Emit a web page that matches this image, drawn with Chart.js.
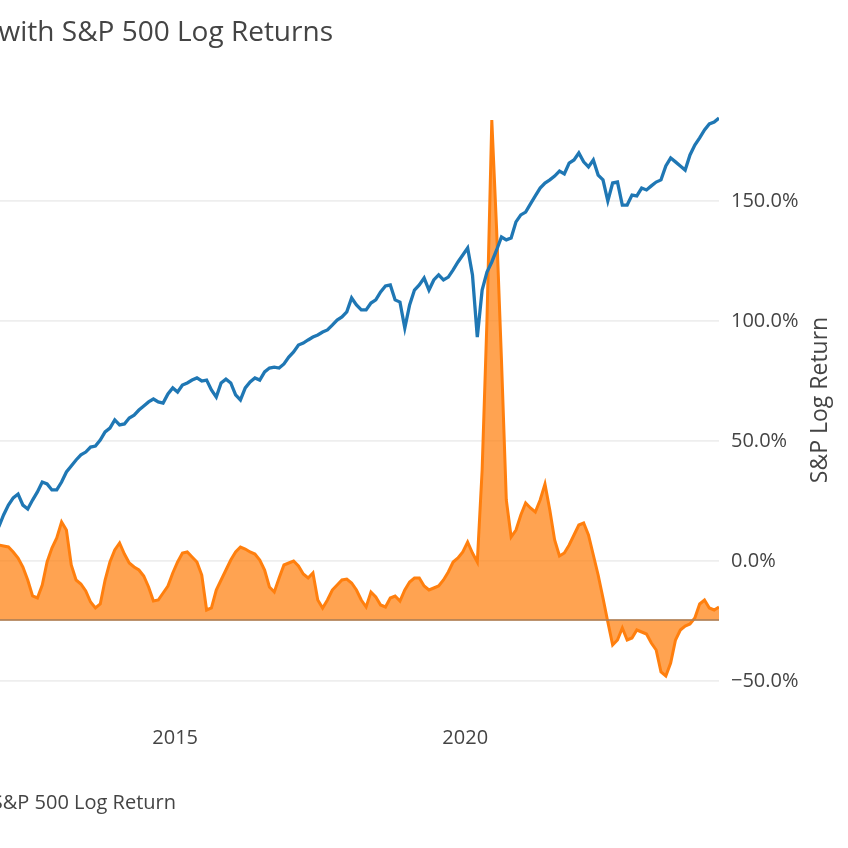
<!DOCTYPE html>
<html>
<head>
<meta charset="utf-8">
<script src="https://cdn.jsdelivr.net/npm/chart.js@4.4.1/dist/chart.umd.min.js"></script>
<style>
  html, body { margin: 0; padding: 0; background: #ffffff; }
  #c { display: block; }
</style>
</head>
<body>
<canvas id="c" width="848" height="848"></canvas>
<script>
// ---- data (monthly, Dec 2011 .. May 2024) ----
const firstMonth = "2011-12";
const titleText = "with S&P 500 Log Returns";
const spName = "S&P 500 Log Return";
const rightAxisTitle = "S&P Log Return";
const xTickYears = [2015, 2020];
const rightTicks = [-50, 0, 50, 100, 150];

// cumulative S&P 500 log return, %
const spLogReturn = [
  14.2,19.2,23.3,26.3,27.9,23.3,21.7,25.4,28.8,32.9,32.1,29.6,29.6,
  32.9,37.1,39.6,42.1,44.2,45.4,47.5,47.9,50.4,53.8,55.4,58.8,
  56.7,57.1,59.6,60.8,62.9,64.6,66.3,67.5,66.3,65.8,69.6,72.1,
  70.4,73.3,74.2,75.4,76.3,75.0,75.4,71.3,68.3,74.2,75.8,74.2,
  69.2,67.1,72.1,74.6,76.3,75.4,78.8,80.4,80.8,80.4,82.1,85.0,
  87.1,90.0,90.8,92.1,93.3,94.2,95.4,96.3,98.3,100.4,101.7,103.8,
  109.6,106.7,104.6,104.6,107.5,108.8,112.1,114.6,115.0,108.8,107.9,97.1,
  106.7,112.9,115.0,117.9,112.9,117.1,119.2,117.1,118.3,121.3,124.6,127.5,
  130.4,119.2,93.3,112.9,120.4,124.6,129.6,135.0,133.8,134.6,141.3,144.2,
  145.4,148.8,152.1,155.4,157.5,158.8,160.4,162.5,161.3,165.8,167.1,170.0,
  166.3,164.2,167.1,160.8,158.8,150.0,157.5,157.9,148.3,148.3,152.5,152.1,
  155.4,154.6,156.3,157.9,158.8,164.6,167.9,166.3,164.6,162.9,169.2,173.3,
  176.3,179.6,182.1,182.9,184.6
];

// orange area series (left axis, which lies outside the visible crop)
const growthSeries = [
  3.75,3.70,3.65,3.40,3.10,2.65,2.00,1.20,1.10,1.75,2.90,3.60,4.10,
  4.90,4.50,2.75,2.00,1.80,1.45,0.90,0.60,0.80,2.00,2.90,3.50,
  3.85,3.30,2.85,2.65,2.50,2.20,1.65,0.95,1.00,1.35,1.70,2.35,
  2.90,3.35,3.40,3.15,2.90,2.25,0.50,0.60,1.50,2.00,2.50,3.00,
  3.40,3.65,3.55,3.40,3.30,3.00,2.50,1.65,1.40,2.10,2.75,2.85,
  2.95,2.70,2.30,2.10,2.35,1.00,0.60,1.00,1.50,1.75,2.00,2.05,
  1.85,1.50,1.00,0.65,1.40,1.15,0.75,0.65,1.10,1.20,0.95,1.50,
  1.90,2.10,2.10,1.70,1.50,1.60,1.70,2.00,2.40,2.90,3.10,3.40,
  3.90,3.35,2.90,7.50,15.00,25.00,19.50,13.00,6.00,4.15,4.50,5.25,
  5.85,5.60,5.40,6.00,6.80,5.50,4.00,3.20,3.35,3.75,4.25,4.75,
  4.85,4.25,3.25,2.25,1.10,-0.10,-1.25,-1.00,-0.40,-1.00,-0.90,-0.50,
  -0.60,-0.70,-1.15,-1.50,-2.60,-2.80,-2.15,-1.00,-0.50,-0.30,-0.20,0.10,
  0.80,1.00,0.60,0.50,0.65
];

// month categories
const months = [];
{
  let [yy, mm] = firstMonth.split("-").map(Number);
  for (let k = 0; k < spLogReturn.length; k++) {
    months.push(yy + "-" + String(mm).padStart(2, "0"));
    mm++; if (mm > 12) { mm = 1; yy++; }
  }
}
const monthToYear = s => { const [y, m] = s.split("-").map(Number); return y + (m - 0.5) / 12; };
const xs = months.map(monthToYear);

const FONT = "'Open Sans', 'Noto Sans', sans-serif";
const TEXT = "#444444";

const overlay = {
  id: "overlay",
  afterDatasetsDraw(chart) {
    const { ctx, chartArea, scales } = chart;
    const y0 = scales.y.getPixelForValue(0);
    ctx.save();
    ctx.strokeStyle = "rgba(176,128,86,0.85)";
    ctx.lineWidth = 2;
    ctx.beginPath();
    ctx.moveTo(chartArea.left, y0);
    ctx.lineTo(chartArea.right, y0);
    ctx.stroke();
    ctx.restore();
  },
  afterDraw(chart) {
    const { ctx } = chart;
    ctx.save();
    ctx.fillStyle = TEXT;
    ctx.textBaseline = "middle";
    // title (left part cropped)
    ctx.font = "28px " + FONT;
    ctx.textAlign = "right";
    ctx.fillText(titleText, 333, 33);
    // legend entry (symbol cropped)
    ctx.font = "20px " + FONT;
    ctx.fillText(spName, 176, 803);
    // right axis title, reading bottom-to-top
    ctx.translate(820, 400);
    ctx.rotate(-Math.PI / 2);
    ctx.textAlign = "center";
    ctx.font = "23px " + FONT;
    ctx.fillText(rightAxisTitle, 0, 0);
    ctx.restore();
  }
};

new Chart(document.getElementById("c"), {
  type: "line",
  data: {
    datasets: [
      {
        label: spName,
        data: xs.map((x, k) => ({ x, y: spLogReturn[k] })),
        yAxisID: "y1",
        borderColor: "#1f77b4",
        borderWidth: 3.3,
        pointRadius: 0,
        tension: 0,
        fill: false,
        order: 0
      },
      {
        label: "Growth",
        data: xs.map((x, k) => ({ x, y: growthSeries[k] })),
        yAxisID: "y",
        borderColor: "#ff7f0e",
        borderWidth: 3,
        backgroundColor: "rgba(255,127,14,0.72)",
        pointRadius: 0,
        tension: 0,
        fill: "origin",
        order: 1
      }
    ]
  },
  options: {
    responsive: false,
    animation: false,
    events: [],
    layout: { padding: { top: 110, left: 0, right: 0, bottom: 0 } },
    plugins: { legend: { display: false }, title: { display: false }, tooltip: { enabled: false } },
    scales: {
      x: {
        type: "linear",
        min: 2011.98,
        max: 2024.375,
        grid: { display: false, drawTicks: false },
        border: { display: false },
        afterBuildTicks: s => { s.ticks = xTickYears.map(v => ({ value: v })); },
        afterFit: s => { s.height = 132; },
        ticks: {
          padding: 10,
          color: TEXT,
          font: { family: FONT, size: 20 },
          callback: v => String(v),
          maxRotation: 0
        }
      },
      y: {
        type: "linear",
        display: false,
        min: -4.8,
        max: 25.5
      },
      y1: {
        type: "linear",
        position: "right",
        min: -64.58,
        max: 187.92,
        grid: { color: "#eeeeee", lineWidth: 1.7, drawTicks: false },
        border: { display: false },
        afterBuildTicks: s => { s.ticks = rightTicks.map(v => ({ value: v })); },
        afterFit: s => { s.width = 129; },
        ticks: {
          padding: 12,
          color: TEXT,
          font: { family: FONT, size: 20 },
          callback: v => (v < 0 ? "\u2212" : "") + Math.abs(v).toFixed(1) + "%"
        }
      }
    }
  },
  plugins: [overlay]
});
</script>
</body>
</html>
